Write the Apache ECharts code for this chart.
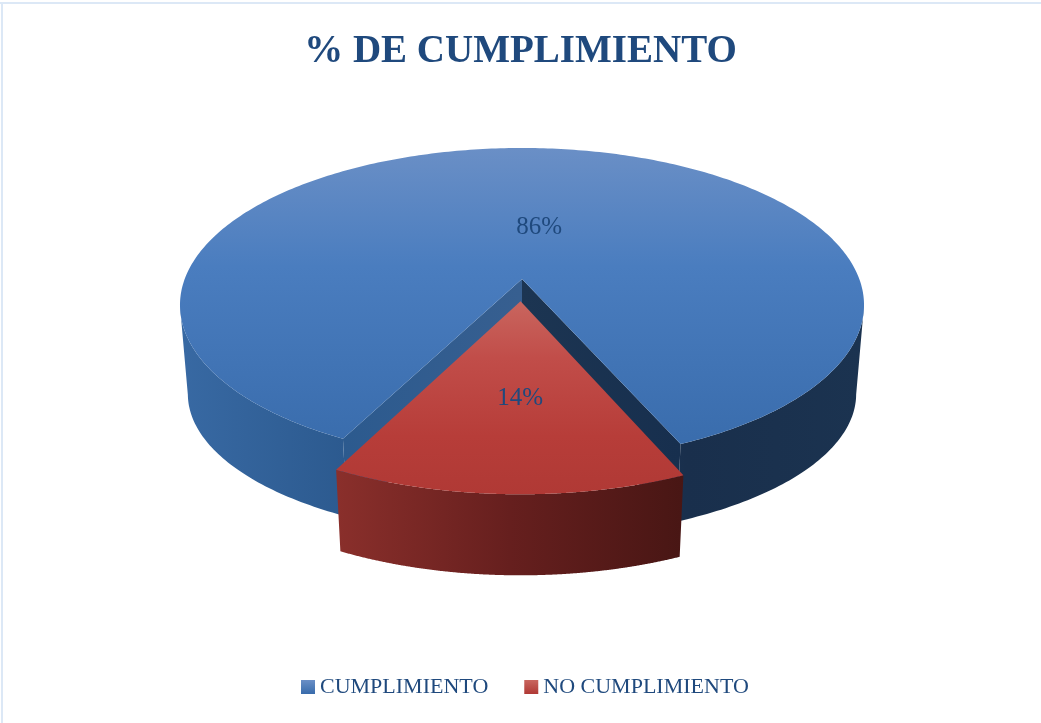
<!DOCTYPE html>
<html><head><meta charset="utf-8">
<style>html,body{margin:0;padding:0;background:#fff}#c{width:1041px;height:723px}</style>
<script src="https://cdn.jsdelivr.net/npm/echarts@6/dist/echarts.min.js"></script>
</head><body><div id="c"></div>
<script>
const titleText = '% DE CUMPLIMIENTO';
const categories = ['CUMPLIMIENTO', 'NO CUMPLIMIENTO'];
const values = [86, 14];
const exploded = [0, 0.143];
const labelNudge = [[14, -4], [6, 0]];
const labelRadius = [0.33, 0.55];

const total = values.reduce((a, b) => a + b, 0);
const START = 23.5, TEXT = '#1f497d', FONT = '"Liberation Serif", serif';
// perspective projection of the pie disc
const CX = 522, CY = 279, K = 0.1656, A = 337.3, B = 152.7, SCALE = 0.977;
// where the lower edge of each slice's wall falls: [top-face y, lower-edge y, y scale]
const wallDrop = [[305, 394, 0.917], [279, 365, 0.977]];
const rad = d => d * Math.PI / 180;
function project(u, v) { const w = 1 - K * v; return [CX + A * u / w, CY + B * v / w]; }
function lower(p, idx) {
  const d = wallDrop[idx];
  return [CX + (p[0] - CX) * SCALE, d[1] + (p[1] - d[0]) * d[2]];
}
function grad(x0, y0, x, y, stops, global) {
  return { type: 'linear', x: x0, y: y0, x2: x, y2: y, global: global !== false,
    colorStops: stops.map(s => ({ offset: s[0], color: s[1] })) };
}
const skins = [
  { face: grad(0, 148, 0, 460, [[0, '#6a8fc6'], [0.38, '#4a7dbf'], [1, '#386bab']]),
    wall: grad(181, 0, 864, 0, [[0, '#3869a3'], [0.24, '#2c5a8f'], [0.5, '#22446d'], [0.74, '#192f4c'], [1, '#1b3350']]),
    cutL: grad(343, 0, 522, 0, [[0, '#2c5a8e'], [1, '#375f90']]),
    cutR: grad(522, 0, 681, 0, [[0, '#1c3552'], [1, '#172f4e']]) },
  { face: grad(0, 300, 0, 495, [[0, '#c9665f'], [0.3, '#c14d49'], [0.7, '#b73d39'], [1, '#b03935']]),
    wall: grad(336, 0, 684, 0, [[0, '#8a2f2b'], [0.5, '#661f1e'], [1, '#481614']]) }
];
function renderSlice(idx) {
  return function (params, api) {
    const value = api.value(0);
    const before = values.slice(0, idx).reduce((a, b) => a + b, 0);
    const a0 = START + before / total * 360, a1 = a0 + value / total * 360, mid = (a0 + a1) / 2;
    const du = exploded[idx] * Math.sin(rad(mid)), dv = exploded[idx] * Math.cos(rad(mid));
    const rim = [], runs = [];
    let run = null;
    for (let i = 0; i <= 360; i++) {
      const t = rad(a0 + (a1 - a0) * i / 360);
      const p = project(Math.sin(t) + du, Math.cos(t) + dv);
      rim.push(p);
      // only the part of the rim that faces the viewer gets an outer wall
      if (Math.cos(t) >= K) { if (!run) { run = []; runs.push(run); } run.push(p); } else run = null;
    }
    const apex = project(du, dv), skin = skins[idx], kids = [];
    const drop = p => lower(p, idx);
    const poly = (pts, fill, z2) => kids.push({ type: 'polygon', z2: z2, silent: true,
      shape: { points: pts }, style: { fill: fill, stroke: null } });
    runs.forEach(r => poly(r.concat(r.map(drop).reverse()), skin.wall, 1));
    if (skin.cutL) {
      const first = rim[0], last = rim[rim.length - 1];
      poly([apex, last, drop(last), drop(apex)], skin.cutL, 2);
      poly([apex, first, drop(first), drop(apex)], skin.cutR, 2);
    }
    poly([apex].concat(rim), skin.face, 3);
    const r = labelRadius[idx], tm = rad(mid), lp = project(r * Math.sin(tm) + du, r * Math.cos(tm) + dv);
    kids.push({ type: 'text', z2: 5, silent: true, style: {
      x: lp[0] + labelNudge[idx][0], y: lp[1] + labelNudge[idx][1], text: Math.round(value / total * 100) + '%',
      fill: TEXT, font: '25px ' + FONT, align: 'center', verticalAlign: 'middle' } });
    return { type: 'group', children: kids };
  };
}
const legendSwatch = [
  grad(0, 0, 0, 1, [[0, '#6a8fc6'], [1, '#386bab']], false),
  grad(0, 0, 0, 1, [[0, '#c9665f'], [1, '#b03935']], false)
];
const chart = echarts.init(document.getElementById('c'), null, { renderer: 'canvas' });
chart.setOption({
  animation: false,
  backgroundColor: '#fff',
  title: { text: titleText, left: 'center', top: 27,
    textStyle: { color: TEXT, fontFamily: FONT, fontWeight: 'bold', fontSize: 39 } },
  legend: { bottom: 20, left: 296, itemWidth: 14, itemHeight: 14, itemGap: 36, icon: 'rect', selectedMode: false,
    data: categories.map((name, i) => ({ name: name, itemStyle: { color: legendSwatch[i] } })),
    textStyle: { color: TEXT, fontFamily: FONT, fontSize: 22 } },
  graphic: [
    { type: 'rect', silent: true, shape: { x: 0, y: 2, width: 1041, height: 2 }, style: { fill: '#dce8f6' } },
    { type: 'rect', silent: true, shape: { x: 1, y: 2, width: 2, height: 721 }, style: { fill: '#dce8f6' } }
  ],
  series: categories.map((name, i) => ({
    type: 'custom', name: name, coordinateSystem: 'none', silent: true, z: i + 2,
    data: [[values[i]]], renderItem: renderSlice(i)
  }))
});
</script></body></html>
